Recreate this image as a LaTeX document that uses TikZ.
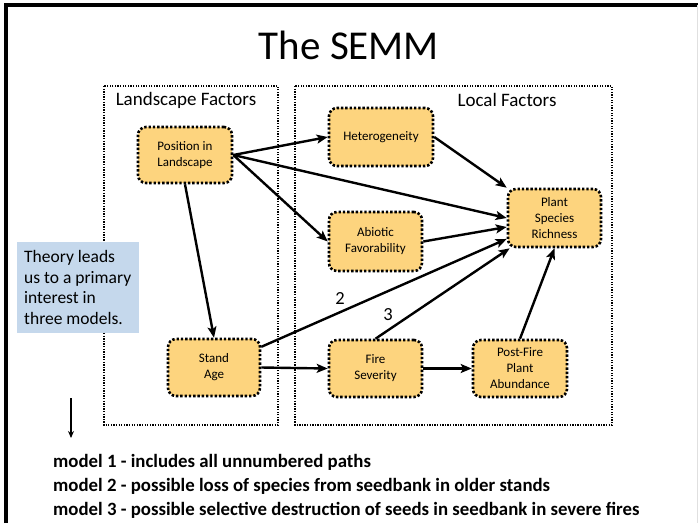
\documentclass[tikz,border=0pt]{standalone}
\usepackage{fontspec}
\setmainfont{Carlito}
\usetikzlibrary{arrows.meta,calc}
\definecolor{boxfill}{HTML}{FDD47E}
\definecolor{notefill}{HTML}{C5D8EC}
\tikzset{
  factor/.style={draw=black, fill=boxfill, rounded corners=8pt,
    line width=2.6pt, dash pattern=on 2.4pt off 1.9pt,
    align=center, font=\fontsize{13}{16}\selectfont, inner sep=0pt},
  group/.style={draw=black, line width=1.4pt, dash pattern=on 1.3pt off 1.3pt},
  path/.style={line width=2.4pt, -{Stealth[length=11pt,width=9pt,inset=2.5pt]}},
  numlabel/.style={font=\fontsize{18.5}{20}\selectfont},
  noteline/.style={anchor=base west, inner sep=0pt, font=\fontsize{17.5}{20}\selectfont},
  modelline/.style={anchor=base west, inner sep=0pt, font=\bfseries\fontsize{18.8}{22}\selectfont},
}
\begin{document}
\begin{tikzpicture}[x=1pt,y=-1pt]
\useasboundingbox (0,0) rectangle (698,523);
% slide frame
\draw[line width=3.4pt] (6,523) -- (6,5) -- (698,5);
\draw[black!12, line width=1pt] (697,5) -- (697,523);

% title
\node[font=\fontsize{41}{46}\selectfont] (title) at (349,45) {The SEMM};

% factor groups
\draw[group] (104,86) rectangle (278,425);
\draw[group] (295,86) rectangle (612,425);
\node[font=\fontsize{19}{22}\selectfont] (landlbl) at (186,100) {Landscape Factors};
\node[font=\fontsize{19}{22}\selectfont] (locallbl) at (507,100) {Local Factors};

% variables
\node[factor, minimum width=94pt, minimum height=56pt] (pos) at (185,155) {Position in\\Landscape};
\node[factor, minimum width=104pt, minimum height=58pt] (het) at (381,137) {Heterogeneity};
\node[factor, minimum width=93pt, minimum height=59pt] (abio) at (375.5,241.5) {Abiotic\\Favorability};
\node[factor, minimum width=93pt, minimum height=58pt] (plant) at (554.5,218) {Plant\\Species\\Richness};
\node[factor, minimum width=92pt, minimum height=57pt] (stand) at (214,367.5) {Stand\\Age};
\node[factor, minimum width=93pt, minimum height=57pt] (fire) at (375.5,368.5) {Fire\\Severity};
\node[factor, minimum width=94pt, minimum height=57pt] (post) at (520,368.5) {Post-Fire\\Plant\\Abundance};

% note
\node[fill=notefill, minimum width=122pt, minimum height=91pt, inner sep=0pt] (note) at (78,287.5) {};
\node[noteline] (note1) at (24,262) {Theory leads};
\node[noteline] (note2) at (24,283) {us to a primary};
\node[noteline] (note3) at (24,303.5) {interest in};
\node[noteline] (note4) at (24,324) {three models.};

% paths
\draw[path] (pos.east) -- (het.west);
\draw[path] (pos.east) -- (plant.west);
\draw[path] (pos.east) -- (abio.west);
\draw[path] (pos.south) -- (stand.north);
\draw[path] (het.east) -- (plant.north west);
\draw[path] (abio.east) -- ($(plant.west)+(0,9)$);
\draw[path] (stand) -- (plant);
\draw[path] (fire.north) -- (plant);
\draw[path] (post.north) -- (plant.south);
\draw[path] (stand.east) -- (fire.west);
\draw[path] (fire.east) -- (post.west);
\node[numlabel] (n2) at (340,298) {2};
\node[numlabel] (n3) at (388,315) {3};

% pointer to the model list
\coordinate (ptop) at (71,398);
\coordinate (pend) at (71,438);
\draw[line width=1.2pt, -{Stealth[length=7pt,width=6pt]}] (ptop) -- (pend);

% model list
\node[modelline] (m1) at (53,467) {model 1 - includes all unnumbered paths};
\node[modelline] (m2) at (53,491) {model 2 - possible loss of species from seedbank in older stands};
\node[modelline] (m3) at (53,515) {model 3 - possible selective destruction of seeds in seedbank in severe fires};
\end{tikzpicture}
\end{document}
